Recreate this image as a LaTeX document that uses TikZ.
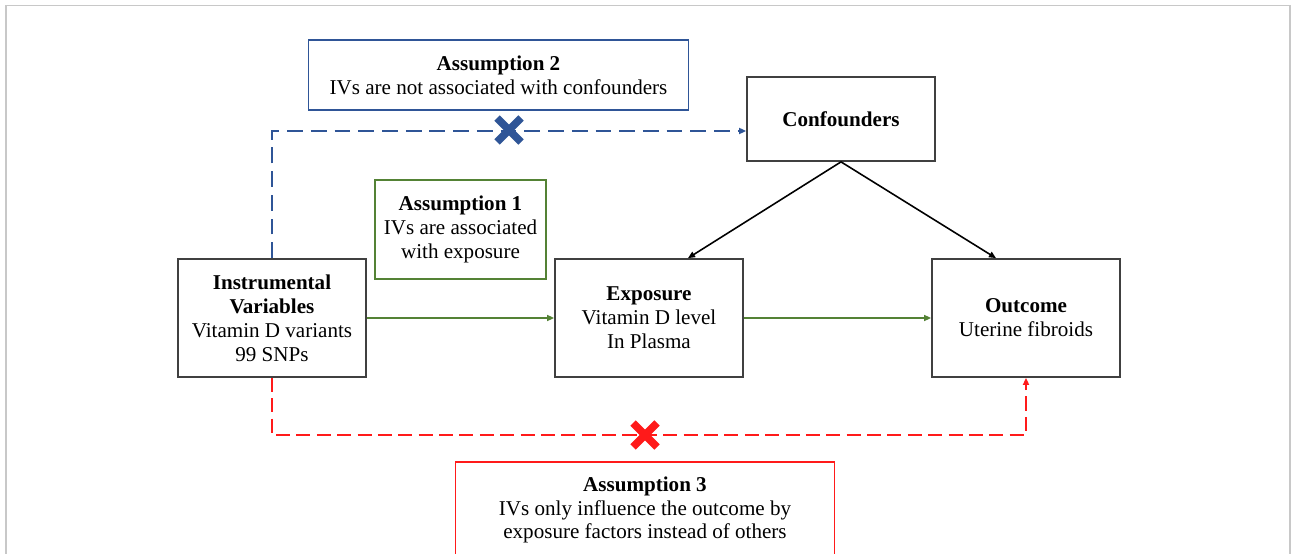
\documentclass[tikz,border=0pt]{standalone}
\usepackage{fontspec}
\setmainfont{Liberation Serif}
\usetikzlibrary{arrows.meta}
\definecolor{boxgray}{HTML}{404040}
\definecolor{bluec}{HTML}{2F5597}
\definecolor{greenc}{HTML}{548235}
\definecolor{redc}{HTML}{FF1A1A}
\definecolor{framec}{HTML}{C8C8C8}
\begin{document}
\begin{tikzpicture}[x=0.02cm,y=-0.02cm,
  txt/.style={font=\fontsize{12}{13.6}\selectfont, align=center, inner sep=0pt},
  box/.style={txt, draw=boxgray, line width=1pt},
  bbox/.style={txt, draw=bluec, line width=1pt},
  gbox/.style={txt, draw=greenc, line width=1pt},
  rbox/.style={txt, draw=redc, line width=1pt},
  tip/.style={-{Triangle[length=4pt,width=3.4pt]}},
  bdash/.style={draw=bluec, line width=1pt, dash pattern=on 9pt off 4.5pt, tip},
  rdash/.style={draw=redc, line width=1.1pt, dash pattern=on 8pt off 3.6pt, tip},
  garrow/.style={draw=greenc, line width=0.9pt, tip},
  karrow/.style={draw=black, line width=0.9pt, tip},
  crossline/.style={line width=4.3pt}
]
\useasboundingbox (0,0) rectangle (1292,554);
\clip (0,0) rectangle (1292,554);
\fill[white] (0,0) rectangle (1292,554);
\draw[framec, line width=0.8pt] (6,600) -- (6,5.5) -- (1290,5.5) -- (1290,600);

\node[box, minimum width=3.76cm, minimum height=2.36cm] (iv) at (272,318)
  {\textbf{Instrumental}\\\textbf{Variables}\\Vitamin D variants\\99 SNPs};
\node[box, minimum width=3.76cm, minimum height=2.36cm] (exp) at (649,318)
  {\textbf{Exposure}\\Vitamin D level\\In Plasma};
\node[box, minimum width=3.76cm, minimum height=2.36cm] (out) at (1026,318)
  {\textbf{Outcome}\\Uterine fibroids};
\node[box, minimum width=3.76cm, minimum height=1.68cm] (conf) at (841,119)
  {\textbf{Confounders}};
\node[bbox, minimum width=7.6cm, minimum height=1.4cm] (a2) at (498.5,75)
  {\textbf{Assumption 2}\\IVs are not associated with confounders};
\node[gbox, minimum width=3.42cm, minimum height=1.98cm] (a1) at (460.5,229.5)
  {\textbf{Assumption 1}\\IVs are associated\\with exposure};
\node[rbox, minimum width=7.58cm, minimum height=1.92cm] (a3) at (645,510)
  {\textbf{Assumption 3}\\IVs only influence the outcome by\\exposure factors instead of others};

% blue dashed: IV -> confounders
\coordinate (bt) at ([yshift=-0.24cm]conf.west);
\draw[bdash] (iv.north) |- (bt);
% red dashed: IV -> outcome
\coordinate (rl) at (0,435);
\draw[rdash] (iv.south) -- (iv.south |- rl) -| (out.south);
% green arrows
\draw[garrow] (iv.east) -- (exp.west);
\draw[garrow] (exp.east) -- (out.west);
% confounders arrows
\draw[karrow] (conf.south) -- ([xshift=0.78cm]exp.north);
\draw[karrow] (conf.south) -- ([xshift=-0.6cm]out.north);

% crosses
\coordinate (xb) at (509,130);
\coordinate (xr) at (645,435);
\draw[bluec, crossline] ([shift={(-12,-12)}]xb) -- ([shift={(12,12)}]xb);
\draw[bluec, crossline] ([shift={(-12,12)}]xb) -- ([shift={(12,-12)}]xb);
\draw[redc, crossline] ([shift={(-12,-12)}]xr) -- ([shift={(12,12)}]xr);
\draw[redc, crossline] ([shift={(-12,12)}]xr) -- ([shift={(12,-12)}]xr);
\end{tikzpicture}
\end{document}
